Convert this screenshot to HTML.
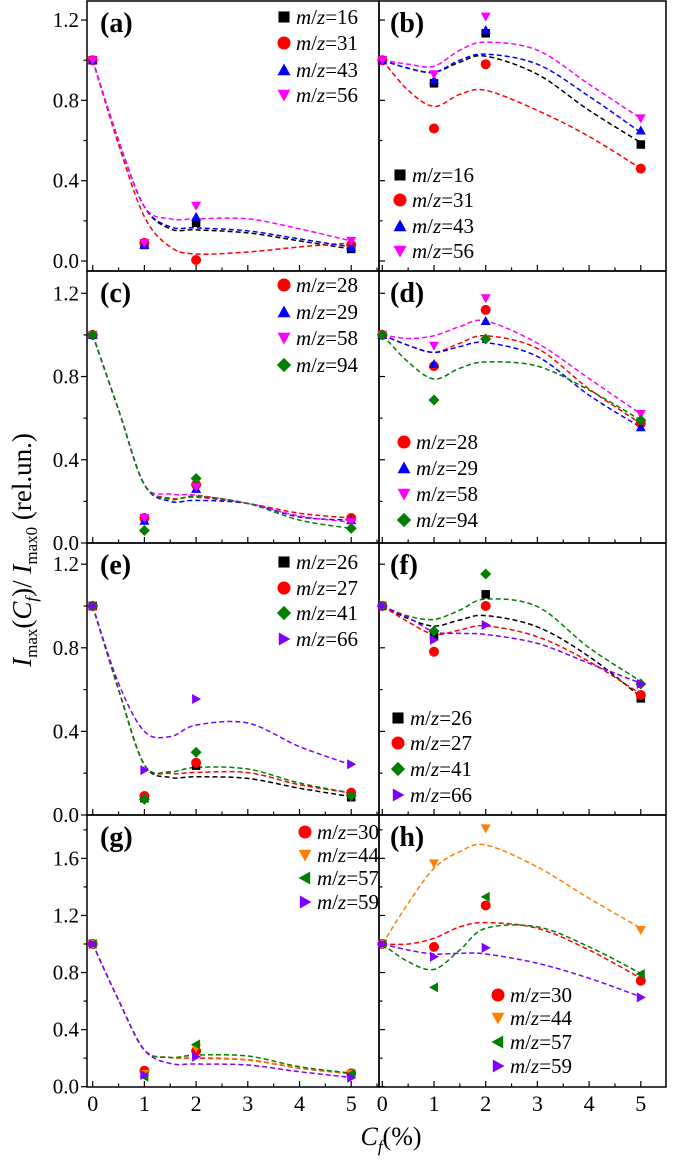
<!DOCTYPE html>
<html><head><meta charset="utf-8"><style>
html,body{margin:0;padding:0;background:#fff;}
svg, svg text, svg tspan{font-family:"Liberation Serif","Times New Roman",serif;}
</style></head><body>
<svg id="chart" width="685" height="1160" viewBox="0 0 685 1160" xmlns="http://www.w3.org/2000/svg" font-family="Liberation Serif, serif"></svg>
<script>
// ---- data ----
const xCats=[0,1,2,5];
const fitX=[0,0.5,1,1.5,2,3,4,5];
const yTicks14=[0,0.4,0.8,1.2];
const yTicks16=[0,0.4,0.8,1.2,1.6];
const xTickLabels=[0,1,2,3,4,5];
// (a)
const a16=[1,0.08,0.19,0.06], a16f=[1,0.6,0.27,0.16,0.155,0.14,0.10,0.06];
const a31=[1,0.09,0.005,0.08], a31f=[1,0.58,0.22,0.07,0.035,0.045,0.07,0.09];
const a43=[1,0.08,0.22,0.07], a43f=[1,0.6,0.27,0.17,0.165,0.15,0.11,0.07];
const a56=[1,0.09,0.275,0.10], a56f=[1,0.6,0.27,0.21,0.21,0.21,0.16,0.10];
// (b)
const b16=[1,0.885,1.134,0.58], b16f=[1,0.96,0.94,0.99,1.02,0.93,0.75,0.59];
const b31=[1,0.66,0.98,0.46], b31f=[1,0.85,0.77,0.83,0.85,0.75,0.62,0.46];
const b43=[1,0.90,1.15,0.65], b43f=[1,0.96,0.94,1.0,1.03,0.98,0.82,0.64];
const b56=[1,0.93,1.217,0.71], b56f=[1,0.98,0.97,1.05,1.09,1.05,0.88,0.71];
// (c)
const c28=[1,0.12,0.28,0.12], c28f=[1,0.64,0.28,0.215,0.22,0.19,0.143,0.12];
const c29=[1,0.107,0.26,0.11], c29f=[1,0.64,0.28,0.20,0.205,0.19,0.125,0.11];
const c58=[1,0.12,0.27,0.10], c58f=[1,0.64,0.28,0.235,0.23,0.19,0.13,0.10];
const c94=[1,0.06,0.31,0.07], c94f=[1,0.64,0.28,0.21,0.225,0.19,0.11,0.07];
// (d)
const d28=[1,0.85,1.12,0.575], d28f=[1,0.95,0.916,0.96,0.996,0.935,0.74,0.575];
const d29=[1,0.86,1.067,0.556], d29f=[1,0.95,0.916,0.944,0.963,0.896,0.71,0.556];
const d58=[1,0.948,1.176,0.62], d58f=[1,0.983,0.996,1.04,1.067,0.96,0.79,0.62];
const d94=[1,0.687,0.98,0.59], d94f=[1,0.87,0.788,0.84,0.87,0.85,0.735,0.59];
// (e)
const e26=[1,0.08,0.236,0.085], e26f=[1,0.6,0.24,0.18,0.183,0.175,0.128,0.088];
const e27=[1,0.091,0.25,0.107], e27f=[1,0.6,0.24,0.199,0.204,0.203,0.145,0.105];
const e41=[1,0.075,0.30,0.092], e41f=[1,0.6,0.24,0.207,0.228,0.22,0.153,0.105];
const e66=[1,0.215,0.555,0.243], e66f=[1,0.63,0.40,0.375,0.43,0.44,0.327,0.24];
// (f)
const f26=[1,0.86,1.056,0.558], f26f=[1,0.94,0.904,0.933,0.954,0.9,0.758,0.565];
const f27=[1,0.781,1.0,0.574], f27f=[1,0.924,0.865,0.885,0.905,0.853,0.734,0.579];
const f41=[1,0.88,1.153,0.627], f41f=[1,0.952,0.936,0.98,1.033,0.997,0.80,0.64];
const f66=[1,0.838,0.909,0.627], f66f=[1,0.945,0.877,0.869,0.864,0.821,0.726,0.63];
// (g)
const g30=[1,0.112,0.25,0.093], g30f=[1,0.607,0.257,0.205,0.2,0.187,0.13,0.09];
const g44=[1,0.09,0.27,0.09], g44f=[1,0.607,0.257,0.205,0.205,0.19,0.133,0.09];
const g57=[1,0.07,0.297,0.089], g57f=[1,0.607,0.257,0.205,0.222,0.215,0.14,0.095];
const g59=[1,0.082,0.21,0.063], g59f=[1,0.607,0.257,0.163,0.159,0.152,0.105,0.065];
// (h)
const h30=[1,0.98,1.27,0.743], h30f=[1,1.0,1.04,1.12,1.15,1.11,0.958,0.76];
const h44=[1,1.565,1.81,1.098], h44f=[1,1.285,1.53,1.647,1.694,1.54,1.32,1.11];
const h57=[1,0.696,1.33,0.79], h57f=[1,0.876,0.822,0.958,1.11,1.12,0.98,0.794];
const h59=[1,0.911,0.974,0.626], h59f=[1,0.958,0.93,0.935,0.93,0.865,0.76,0.63];

// ---- colours / layout ----
const C={black:'#000000',red:'#ff0000',blue:'#0000ff',mag:'#ff00ff',green:'#008000',purple:'#8000ff',orange:'#ff8000'};
const NS='http://www.w3.org/2000/svg';
const FONT='Liberation Serif, Times New Roman, serif';
const svg=document.getElementById('chart');
function el(tag,attrs,parent){const e=document.createElementNS(NS,tag);for(const k in attrs)e.setAttribute(k,attrs[k]);if(tag==='text')e.setAttribute('font-family',FONT);(parent||svg).appendChild(e);return e;}

const cols=[{l:87,r:379,x0:92.7,out:true},{l:379,r:666,x0:382.3,out:false}];
const rows=[{t:1,b:271,y0:261,k:200.8,ticks:yTicks14,max:1.2},{t:271,b:543,y0:543,k:208.1,ticks:yTicks14,max:1.2},{t:543,b:815,y0:815,k:209,ticks:yTicks14,max:1.2},{t:815,b:1087,y0:1086.7,k:142.7,ticks:yTicks16,max:1.6}];
const XK=51.7;

const panels=[
 {id:'a',c:0,r:0,lx:284,ly:[17,43,70,95],s:[['16',C.black,'sq',a16,a16f],['31',C.red,'ci',a31,a31f],['43',C.blue,'tu',a43,a43f],['56',C.mag,'td',a56,a56f]]},
 {id:'b',c:1,r:0,lx:400,ly:[175,200,226,251],s:[['16',C.black,'sq',b16,b16f],['31',C.red,'ci',b31,b31f],['43',C.blue,'tu',b43,b43f],['56',C.mag,'td',b56,b56f]]},
 {id:'c',c:0,r:1,lx:284,ly:[285,312,338,365],s:[['28',C.red,'ci',c28,c28f],['29',C.blue,'tu',c29,c29f],['58',C.mag,'td',c58,c58f],['94',C.green,'di',c94,c94f]]},
 {id:'d',c:1,r:1,lx:404,ly:[442,468,494,520],s:[['28',C.red,'ci',d28,d28f],['29',C.blue,'tu',d29,d29f],['58',C.mag,'td',d58,d58f],['94',C.green,'di',d94,d94f]]},
 {id:'e',c:0,r:2,lx:284,ly:[562,588,613,639],s:[['26',C.black,'sq',e26,e26f],['27',C.red,'ci',e27,e27f],['41',C.green,'di',e41,e41f],['66',C.purple,'tr',e66,e66f]]},
 {id:'f',c:1,r:2,lx:398,ly:[718,743,769,795],s:[['26',C.black,'sq',f26,f26f],['27',C.red,'ci',f27,f27f],['41',C.green,'di',f41,f41f],['66',C.purple,'tr',f66,f66f]]},
 {id:'g',c:0,r:3,lx:305,ly:[832,855,878,902],s:[['30',C.red,'ci',g30,g30f],['44',C.orange,'td',g44,g44f],['57',C.green,'tl',g57,g57f],['59',C.purple,'tr',g59,g59f]]},
 {id:'h',c:1,r:3,lx:498,ly:[995,1018,1042,1066],s:[['30',C.red,'ci',h30,h30f],['44',C.orange,'td',h44,h44f],['57',C.green,'tl',h57,h57f],['59',C.purple,'tr',h59,h59f]]}
];

function marker(g,shape,cx,cy,s,col){
  const h=s/2;let e;
  if(shape==='sq')e=el('rect',{x:cx-h*0.85,y:cy-h*0.85,width:s*0.85,height:s*0.85,fill:col},g);
  else if(shape==='ci')e=el('circle',{cx:cx,cy:cy,r:h,fill:col},g);
  else{let p;
    if(shape==='tu')p=[[cx,cy-h],[cx+h,cy+h*0.8],[cx-h,cy+h*0.8]];
    else if(shape==='td')p=[[cx,cy+h],[cx+h,cy-h*0.8],[cx-h,cy-h*0.8]];
    else if(shape==='tl')p=[[cx-h,cy],[cx+h*0.8,cy-h],[cx+h*0.8,cy+h]];
    else if(shape==='tr')p=[[cx+h,cy],[cx-h*0.8,cy-h],[cx-h*0.8,cy+h]];
    else p=[[cx,cy-h*1.1],[cx+h*1.1,cy],[cx,cy+h*1.1],[cx-h*1.1,cy]];
    e=el('polygon',{points:p.map(q=>q.join(',')).join(' '),fill:col},g);}
  return e;
}
function spline(pts){
  let d='M'+pts[0][0]+','+pts[0][1];
  for(let i=0;i<pts.length-1;i++){
    const p0=pts[Math.max(i-1,0)],p1=pts[i],p2=pts[i+1],p3=pts[Math.min(i+2,pts.length-1)];
    const c1=[p1[0]+(p2[0]-p0[0])/6,p1[1]+(p2[1]-p0[1])/6];
    const c2=[p2[0]-(p3[0]-p1[0])/6,p2[1]-(p3[1]-p1[1])/6];
    d+=' C'+c1.join(',')+' '+c2.join(',')+' '+p2.join(',');
  }
  return d;
}

panels.forEach(P=>{
  const col=cols[P.c],row=rows[P.r];
  const xs=v=>col.x0+XK*v, ys=v=>row.y0-row.k*v;
  const g=el('g',{});
  
  
  const fr=el('rect',{x:col.l,y:row.t,width:col.r-col.l,height:row.b-row.t,fill:'none',stroke:'#000','stroke-width':1.5},g);
  
  
  for(let v=0;v<=row.max+0.2001;v+=0.2){
    const y=ys(v); if(y<row.t+1)continue;
    const major=Math.abs((v/0.4)-Math.round(v/0.4))<0.01;
    const len=major?6:3.5;
    el('line',{x1:col.l,x2:col.out?col.l-len:col.l+len,y1:y,y2:y,stroke:'#000','stroke-width':1.2},g);
  }
  if(P.c===0){
    row.ticks.forEach(v=>{
      const t=el('text',{x:79,y:ys(v)+7,'text-anchor':'end','font-size':21},g);
      t.textContent=v.toFixed(1);
      
      
    });
  }
  for(let v=0;v<=5.5;v+=0.5){
    const x=xs(v); if(x>col.r-1)continue;
    const major=Math.abs(v-Math.round(v))<0.01;
    el('line',{x1:x,x2:x,y1:row.b,y2:row.b-(major?6:3.5),stroke:'#000','stroke-width':1.2},g);
  }
  if(P.r===3){
    xTickLabels.forEach(v=>{
      const t=el('text',{x:xs(v),y:1111,'text-anchor':'middle','font-size':22},g);
      t.textContent=v;
      
      
    });
  }
  P.s.forEach(s=>{
    const pts=fitX.map((x,i)=>[xs(x),ys(s[4][i])]);
    const p=el('path',{d:spline(pts),fill:'none',stroke:s[1],'stroke-width':1.5,'stroke-dasharray':'5,3'},g);
    
    
  });
  P.s.forEach(s=>{
    xCats.forEach((x,i)=>{
      const m=marker(g,s[2],xs(x),ys(s[3][i]),10,s[1]);
      
      
    });
  });
  P.s.forEach((s,i)=>{
    const y=P.ly[i];
    const m=marker(g,s[2],P.lx,y,13,s[1]);
    
    
    const t=el('text',{x:P.lx+12,y:y+7,'font-size':21},g);
    
    
    const a=el('tspan',{'font-style':'italic'},t);a.textContent='m';
    const b=el('tspan',{},t);b.textContent='/';
    const c=el('tspan',{'font-style':'italic'},t);c.textContent='z';
    const d=el('tspan',{},t);d.textContent='='+s[0];
  });
  const lb=el('text',{x:col.l+(P.c===0?13:11),y:row.t+31,'font-size':28,'font-weight':'bold'},g);
  lb.textContent='('+P.id+')';
  
  
});

// axis titles
const yt=el('text',{x:0,y:0,'font-size':27,'text-anchor':'middle',transform:'translate(31,550) rotate(-90)'});


[['I',{'font-style':'italic'}],['max',{'font-size':17,dy:6}],['(',{dy:-6}],['C',{'font-style':'italic'}],['f',{'font-size':17,'font-style':'italic',dy:6}],[')/ ',{dy:-6}],['I',{'font-style':'italic'}],['max0',{'font-size':17,dy:6}],[' (rel.un.)',{dy:-6}]].forEach(p=>{const t=el('tspan',p[1],yt);t.textContent=p[0];});
const xt=el('text',{x:391,y:1145,'font-size':26,'text-anchor':'middle'});


[['C',{'font-style':'italic'}],['f',{'font-size':17,'font-style':'italic',dy:7}],['(%)',{dy:-7}]].forEach(p=>{const t=el('tspan',p[1],xt);t.textContent=p[0];});
</script>
</body></html>
